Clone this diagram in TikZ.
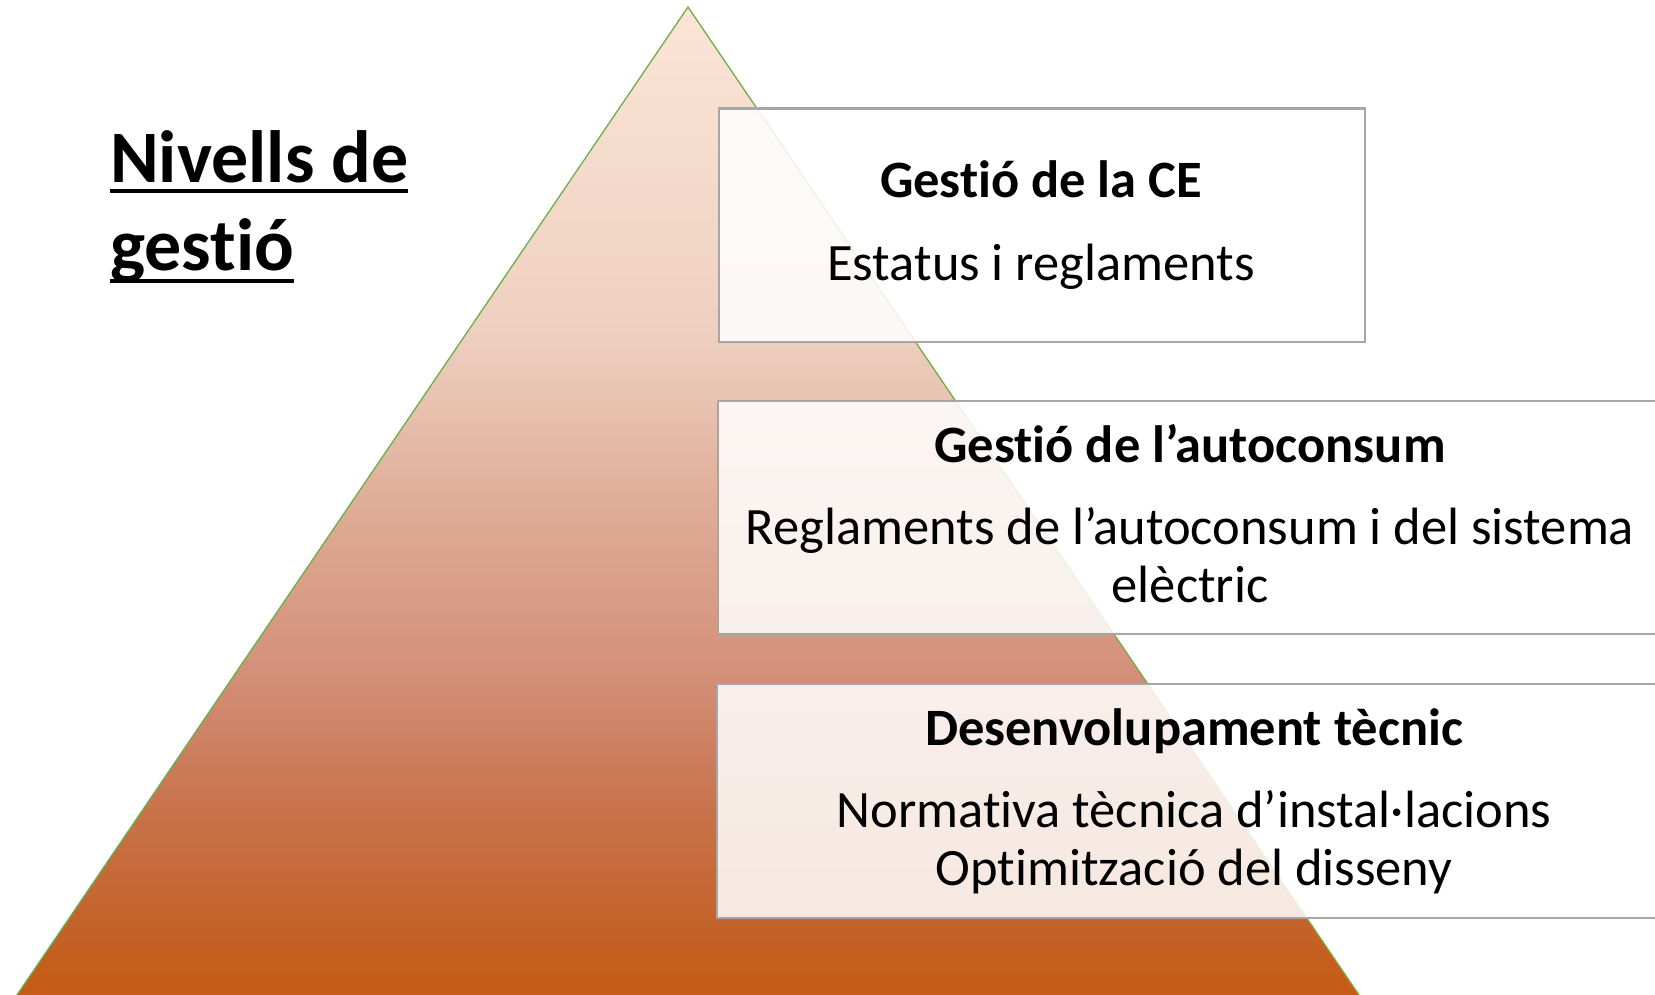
\documentclass[tikz,border=0pt]{standalone}
\usepackage{fontspec}
\setmainfont{Carlito}[Ligatures={TeX,NoCommon},RawFeature={-liga;-clig;-dlig}]
\definecolor{pyrA}{RGB}{251,229,214}
\definecolor{pyrB}{RGB}{238,208,192}
\definecolor{pyrC}{RGB}{220,166,144}
\definecolor{pyrD}{RGB}{212,144,122}
\definecolor{pyrE}{RGB}{201,117,80}
\definecolor{pyrF}{RGB}{196,98,42}
\definecolor{pyrG}{RGB}{197,90,17}
\definecolor{pyredge}{RGB}{112,173,71}
\definecolor{boxedge}{RGB}{166,166,166}
\pgfdeclareverticalshading{pyrshade}{100bp}{color(0bp)=(pyrG); color(25bp)=(pyrG);
  color(29.11bp)=(pyrF); color(35.47bp)=(pyrE); color(41.83bp)=(pyrD);
  color(48.2bp)=(pyrC); color(58.82bp)=(pyrB); color(75bp)=(pyrA); color(100bp)=(pyrA)}
\begin{document}
\begin{tikzpicture}[x=1pt,y=-1pt,
  levelbox/.style={draw=boxedge,line width=2.2pt,fill=white,fill opacity=0.86,draw opacity=1,
    rectangle,inner sep=0pt,anchor=north west},
  headtext/.style={font=\fontsize{52.5}{58}\selectfont\bfseries,anchor=base,inner sep=0pt},
  bodytext/.style={font=\fontsize{52.5}{58}\selectfont,anchor=base,inner sep=0pt},
  titletext/.style={font=\fontsize{74}{88}\selectfont\bfseries,anchor=base west,inner sep=0pt},
  uline/.style={line width=4.5pt}]
\useasboundingbox (0,0) rectangle (1655,995);
\clip (0,0) rectangle (1655,995);
\fill[white] (0,0) rectangle (1655,995);
% pyramid
\shade[shading=pyrshade]
  (688,7) -- (10.2,1005) -- (1365.8,1005) -- cycle;
\draw[pyredge,line width=1.3pt,line join=miter]
  (688,7) -- (10.2,1005) -- (1365.8,1005) -- cycle;
% boxes
\node[levelbox,minimum width=646pt,minimum height=233.5pt] (box1) at (718,107.5) {};
\node[levelbox,minimum width=960pt,minimum height=233pt] (box2) at (717,400) {};
\node[levelbox,minimum width=970pt,minimum height=234pt] (box3) at (716,683) {};
% texts
\node[headtext] (h1) at (1041,198) {Gestió de la CE};
\node[bodytext] (b1) at (1041,280) {Estatus i reglaments};
\node[headtext] (h2) at (1190,462) {Gestió de l’autoconsum};
\node[bodytext] (b2a) at (1190,544) {Reglaments de l’autoconsum i del sistema};
\node[bodytext] (b2b) at (1190,602) {elèctric};
\node[headtext] (h3) at (1194,745) {Desenvolupament tècnic};
\node[bodytext] (b3a) at (1194,827) {Normativa tècnica d’instal·lacions};
\node[bodytext] (b3b) at (1194,885) {Optimització del disseny};
% title
\node[titletext] (t1) at (110,183) {Nivells de};
\node[titletext] (t2) at (110,270) {gestió};
\draw[uline] ([yshift=-8pt]t1.base west) -- ([yshift=-8pt]t1.base east);
\draw[uline] ([yshift=-11pt]t2.base west) -- ([yshift=-11pt]t2.base east);
\end{tikzpicture}
\end{document}
